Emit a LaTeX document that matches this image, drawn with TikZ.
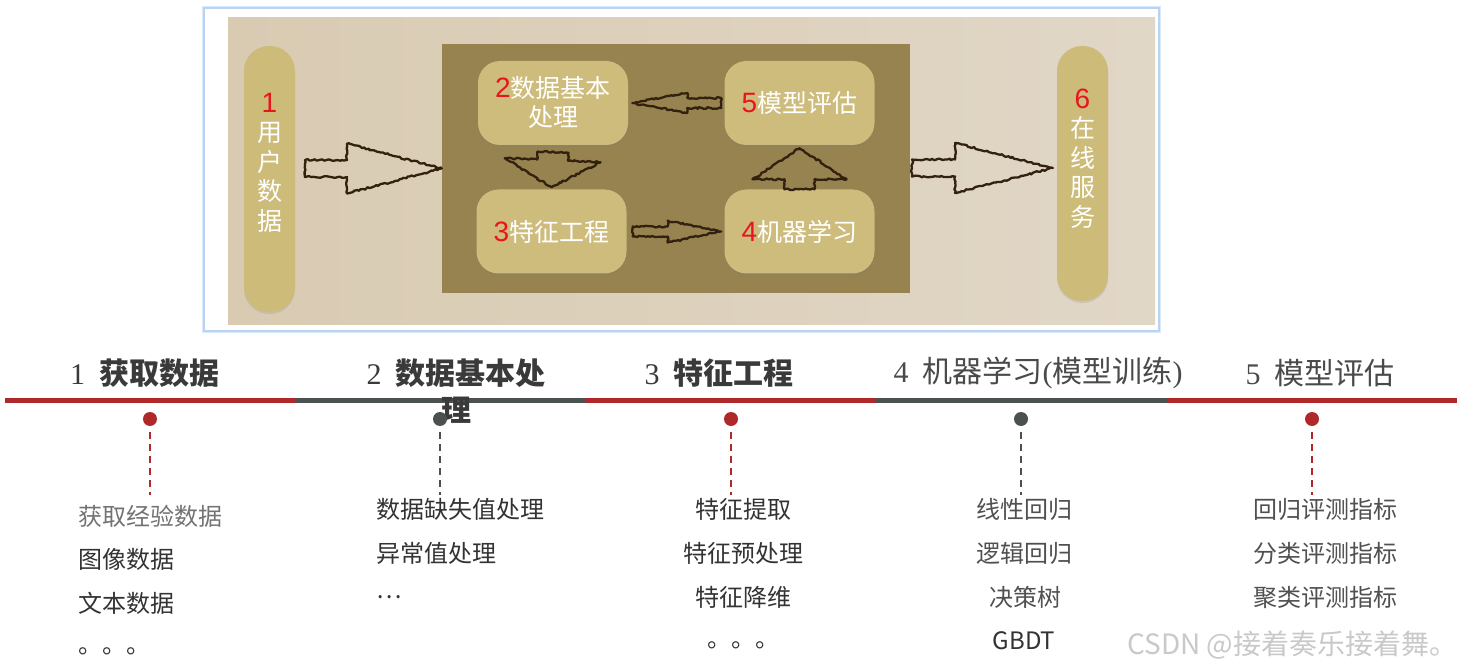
\documentclass[tikz,border=0pt]{standalone}
\usepackage{fontspec}
\setmainfont{Noto Sans CJK SC}
\newfontfamily\numserif{Liberation Serif}
\newfontfamily\numsans{Liberation Sans}
\usetikzlibrary{calc,decorations.pathmorphing,shadows}
\definecolor{framecol}{HTML}{B9D3F3}
\definecolor{bgl}{HTML}{D9CBB2}
\definecolor{bgr}{HTML}{E1D7C7}
\definecolor{corecol}{HTML}{968350}
\definecolor{boxcol}{HTML}{CDBC7C}
\definecolor{pillcol}{HTML}{CCBB79}
\definecolor{sketchcol}{HTML}{33210F}
\definecolor{numred}{HTML}{E8141E}
\definecolor{tlred}{HTML}{B0292A}
\definecolor{tlgray}{HTML}{4B5150}
\definecolor{hdark}{HTML}{3A3A3A}
\definecolor{hlight}{HTML}{4A4A4A}
\definecolor{itemdark}{HTML}{333333}
\definecolor{itemlight}{HTML}{505050}
\definecolor{wm}{HTML}{C9C9C9}
\newcommand\boxfont{\fontsize{25pt}{29pt}\selectfont}
\newcommand\pillfont{\fontsize{25pt}{29.5pt}\selectfont}
\newcommand\headfont{\fontsize{30pt}{37pt}\selectfont}
\newcommand\itemfont{\fontsize{24pt}{28pt}\selectfont}
\newcommand\rn[1]{{\color{numred}\numsans\fontsize{28pt}{29pt}\selectfont #1}}
\newcommand\hn[1]{{\numserif\mdseries #1}\hspace{14pt}}
\newcommand\blockarrow[5]{%
  \coordinate (hb) at ($(#1)!#3!(#2)$);
  \draw[sketch] ($(#1)!#4!90:(#2)$) -- ($(hb)!#4!90:(#2)$) -- ($(hb)!#5!90:(#2)$) -- (#2)
    -- ($(hb)!#5!-90:(#2)$) -- ($(hb)!#4!-90:(#2)$) -- ($(#1)!#4!-90:(#2)$) -- cycle;
}
\tikzset{
  sketch/.style={draw=sketchcol, line width=2.3pt, line join=round,
    decorate, decoration={random steps, segment length=2.2pt, amplitude=0.9pt}},
  stage/.style={fill=boxcol, rounded corners=22pt, minimum width=150pt, minimum height=84pt,
    text=white, font=\boxfont, align=center, inner sep=0pt,
    drop shadow={shadow xshift=0pt, shadow yshift=-2pt, opacity=0.25}},
  pill/.style={fill=pillcol, rounded corners=25pt, minimum width=51pt, inner sep=0pt,
    drop shadow={shadow xshift=0pt, shadow yshift=-2pt, opacity=0.2}},
  pilltext/.style={text=white, font=\pillfont, align=center, inner sep=0pt},
  seg/.style={line width=5pt},
  dot/.style={circle, minimum size=14pt, inner sep=0pt},
  stem/.style={line width=2pt, dash pattern=on 7pt off 5pt},
  head/.style={font=\headfont, align=center, inner sep=0pt},
  item/.style={font=\itemfont, inner sep=0pt},
}
\begin{document}
\begin{tikzpicture}[x=1pt,y=-1pt]
\useasboundingbox (0,0) rectangle (1468,671);
\fill[white] (0,0) rectangle (1468,671);
% frame of the picture
\draw[draw=framecol!50, line width=4pt] (204,8) rectangle (1159,331);
\draw[draw=framecol, line width=1.2pt, fill=white] (204,8) rectangle (1159,331);
\shade[left color=bgl, right color=bgr] (228,18) rectangle (1155,324);
% core box
\node[fill=corecol, minimum width=468pt, minimum height=249pt, inner sep=0pt] (core) at (676,168.5) {};
% pills
\node[pill, minimum height=266pt] (p1) at (269.5,179) {};
\node[pilltext] (p1t) at (269.5,162.5) {\rn{1}\\用\\户\\数\\据};
\node[pill, minimum height=255pt] (p6) at (1082.5,173.5) {};
\node[pilltext] (p6t) at (1082.5,158.5) {\rn{6}\\在\\线\\服\\务};
% stages
\node[stage] (b2) at (553,103) {\rn{2}数据基本\\处理};
\node[stage] (b3) at (551.5,231.5) {\rn{3}特征工程};
\node[stage] (b5) at (799.5,103) {\rn{5}模型评估};
\node[stage] (b4) at (799.5,231.5) {\rn{4}机器学习};
% sketchy arrows
\coordinate (a1s) at (305,168.5);
\blockarrow{a1s}{core.west}{42pt}{8.5pt}{25pt}
\coordinate (a6s) at (912,168);
\coordinate (a6e) at (1053,168);
\blockarrow{a6s}{a6e}{43pt}{8.5pt}{25pt}
\coordinate (a52s) at ([xshift=-3pt]b5.west);
\coordinate (a52e) at ([xshift=4pt]b2.east);
\blockarrow{a52s}{a52e}{34pt}{5pt}{10pt}
\coordinate (a34s) at ([xshift=6pt]b3.east);
\coordinate (a34e) at ([xshift=-3pt]b4.west);
\blockarrow{a34s}{a34e}{35pt}{5pt}{11pt}
\coordinate (a23s) at ([yshift=-7pt]b2.south);
\coordinate (a23e) at ([yshift=2pt]b3.north);
\blockarrow{a23s}{a23e}{8pt}{15.5pt}{48pt}
\coordinate (a45s) at (b4.north);
\coordinate (a45e) at ([yshift=-3pt]b5.south);
\blockarrow{a45s}{a45e}{10pt}{15pt}{47pt}
% timeline
\draw[seg, tlred] (5,400) -- (296,400);
\draw[seg, tlgray] (296,400) -- (586,400);
\draw[seg, tlred] (586,400) -- (876,400);
\draw[seg, tlgray] (876,400) -- (1167,400);
\draw[seg, tlred] (1167,400) -- (1457,400);
% headers
\node[head, text=hdark, font=\headfont\bfseries] (h1) at (144.5,373) {\hn{1}获取数据};
\node[head, text=hdark, font=\headfont\bfseries] (h2) at (456,391.5) {\hn{2}数据基本处\\理};
\node[head, text=hdark, font=\headfont\bfseries] (h3) at (719,373) {\hn{3}特征工程};
\node[head, text=hlight] (h4) at (1038,373) {\hn{4}机器学习{\numserif(}模型训练{\numserif)}};
\node[head, text=hlight] (h5) at (1320,373) {\hn{5}模型评估};
% dots and stems
\node[dot, fill=tlred] (d1) at (150,419) {};
\node[dot, fill=tlgray] (d2) at (440,419) {};
\node[dot, fill=tlred] (d3) at (731,419) {};
\node[dot, fill=tlgray] (d4) at (1021,419) {};
\node[dot, fill=tlred] (d5) at (1312,419) {};
\coordinate (e1) at (150,495);
\coordinate (e2) at (440,495);
\coordinate (e3) at (731,495);
\coordinate (e4) at (1021,495);
\coordinate (e5) at (1312,495);
\draw[stem, tlred] ([yshift=-6pt]d1.south) -- (e1);
\draw[stem, tlgray] ([yshift=-6pt]d2.south) -- (e2);
\draw[stem, tlred] ([yshift=-6pt]d3.south) -- (e3);
\draw[stem, tlgray] ([yshift=-6pt]d4.south) -- (e4);
\draw[stem, tlred] ([yshift=-6pt]d5.south) -- (e5);
% column 1
\node[item, anchor=west, text=itemlight!80] (c1a) at (78,516) {获取经验数据};
\node[item, anchor=west, text=itemdark] (c1b) at (78,559) {图像数据};
\node[item, anchor=west, text=itemdark] (c1c) at (78,603) {文本数据};
\node[item, anchor=west, text=itemdark] (c1d) at (78,651) {。。。};
% column 2
\node[item, anchor=west, text=itemdark] (c2a) at (376,509) {数据缺失值处理};
\node[item, anchor=west, text=itemdark] (c2b) at (376,553) {异常值处理};
\node[item, anchor=west, text=itemdark] (c2c) at (376,597) {…};
% column 3
\node[item, text=itemdark] (c3a) at (743,509) {特征提取};
\node[item, text=itemdark] (c3b) at (743,553) {特征预处理};
\node[item, text=itemdark] (c3c) at (743,597) {特征降维};
\node[item, text=itemdark] (c3d) at (743,645) {。。。};
% column 4
\node[item, text=itemlight] (c4a) at (1024,509) {线性回归};
\node[item, text=itemlight] (c4b) at (1024,553) {逻辑回归};
\node[item, text=itemlight] (c4c) at (1025,597) {决策树};
\node[item, text=itemdark] (c4d) at (1024,641) {GBDT};
% column 5
\node[item, text=itemlight] (c5a) at (1325,509) {回归评测指标};
\node[item, text=itemlight] (c5b) at (1325,553) {分类评测指标};
\node[item, text=itemlight] (c5c) at (1325,597) {聚类评测指标};
% watermark
\node[item, anchor=west, text=wm, font=\fontsize{28pt}{30pt}\selectfont] (wmk) at (1127,645) {CSDN @接着奏乐接着舞。};
\end{tikzpicture}
\end{document}
